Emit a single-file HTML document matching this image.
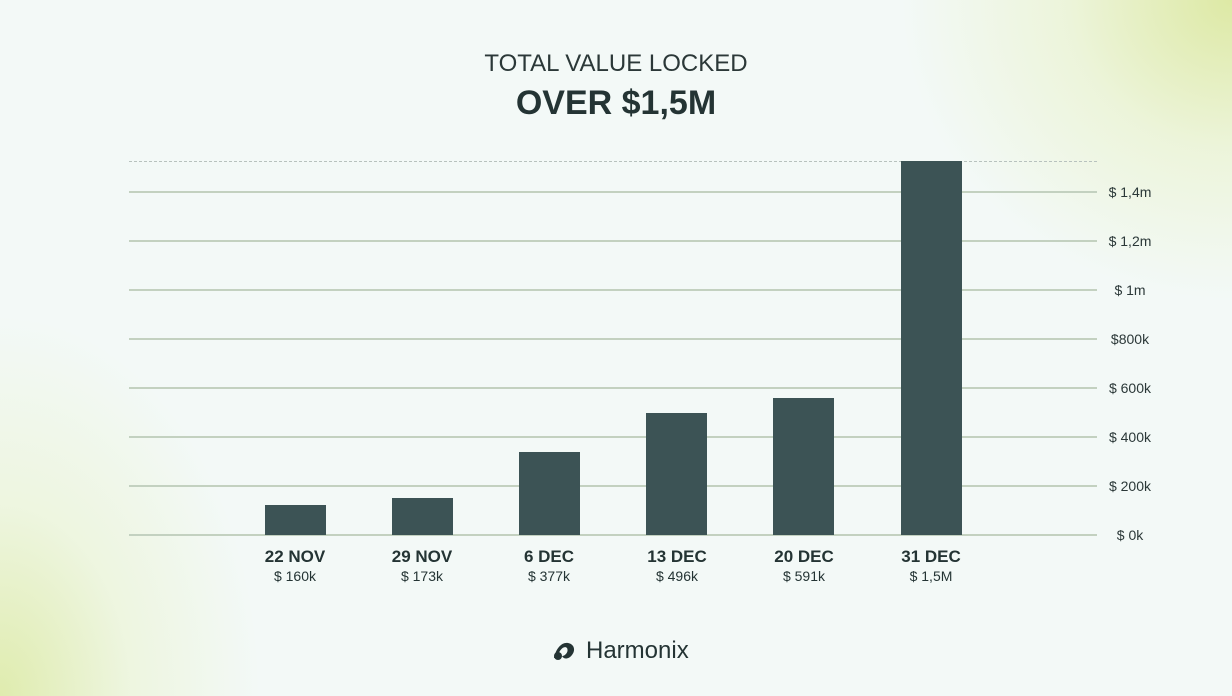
<!DOCTYPE html>
<html><head><style>
body{margin:0;width:1232px;height:696px;overflow:hidden;font-family:"Liberation Sans",sans-serif;color:#243434;
background:
radial-gradient(ellipse 330px 300px at 1232px 0px, rgba(220,232,160,0.95), rgba(230,240,190,0.5) 50%, rgba(244,250,246,0) 100%),
radial-gradient(ellipse 260px 380px at 0px 696px, rgba(222,235,170,0.95), rgba(232,242,200,0.5) 50%, rgba(244,250,246,0) 100%),
#f3f9f7;}
.t{position:absolute;left:0;width:1232px;text-align:center}
.b{position:absolute;background:#3c5355;width:61px}
.g{position:absolute;left:129px;width:968px;height:0;border-top:2px solid #c3d1c0}
.yl{position:absolute;left:1090px;width:80px;text-align:center;font-size:14px;color:#2b3838}
.xl{position:absolute;width:120px;text-align:center}
.xl b{display:block;font-size:17px;color:#243434}
.xl span{display:block;font-size:14px;margin-top:1px}
</style></head><body>
<div class="t" style="top:50px;font-size:24px;color:#2b3838">TOTAL VALUE LOCKED</div>
<div class="t" style="top:84px;font-size:34px;font-weight:bold;color:#243434">OVER $1,5M</div>
<div style="position:absolute;left:129px;top:161px;width:968px;border-top:1px dashed #b8c2be"></div>
<div class="g" style="top:191px"></div><div class="g" style="top:240px"></div><div class="g" style="top:289px"></div><div class="g" style="top:338px"></div><div class="g" style="top:387px"></div><div class="g" style="top:436px"></div><div class="g" style="top:485px"></div><div class="g" style="top:534px"></div>
<div class="yl" style="top:184px">$ 1,4m</div><div class="yl" style="top:233px">$ 1,2m</div><div class="yl" style="top:282px">$ 1m</div><div class="yl" style="top:331px">$800k</div><div class="yl" style="top:380px">$ 600k</div><div class="yl" style="top:429px">$ 400k</div><div class="yl" style="top:478px">$ 200k</div><div class="yl" style="top:527px">$ 0k</div>
<div class="b" style="left:265px;top:505px;height:30px"></div>
<div class="b" style="left:392px;top:498px;height:37px"></div>
<div class="b" style="left:519px;top:452px;height:83px"></div>
<div class="b" style="left:646px;top:413px;height:122px"></div>
<div class="b" style="left:773px;top:398px;height:137px"></div>
<div class="b" style="left:901px;top:161px;height:374px"></div>
<div class="xl" style="left:235px;top:547px"><b>22 NOV</b><span>$ 160k</span></div>
<div class="xl" style="left:362px;top:547px"><b>29 NOV</b><span>$ 173k</span></div>
<div class="xl" style="left:489px;top:547px"><b>6 DEC</b><span>$ 377k</span></div>
<div class="xl" style="left:617px;top:547px"><b>13 DEC</b><span>$ 496k</span></div>
<div class="xl" style="left:744px;top:547px"><b>20 DEC</b><span>$ 591k</span></div>
<div class="xl" style="left:871px;top:547px"><b>31 DEC</b><span>$ 1,5M</span></div>
<svg style="position:absolute;left:552px;top:640px" width="26" height="22" viewBox="0 0 26 22"><path d="M2 18 C4 8 10 2 16 3 C22 4 24 10 20 15 C17 19 12 20 10 16 C13 16 17 12 15 8 C12 5 7 10 5 18 Z" fill="#243434"/><circle cx="6" cy="16" r="4" fill="#243434"/></svg>
<div style="position:absolute;left:586px;top:637px;font-size:24px;color:#243434">Harmonix</div>
</body></html>
